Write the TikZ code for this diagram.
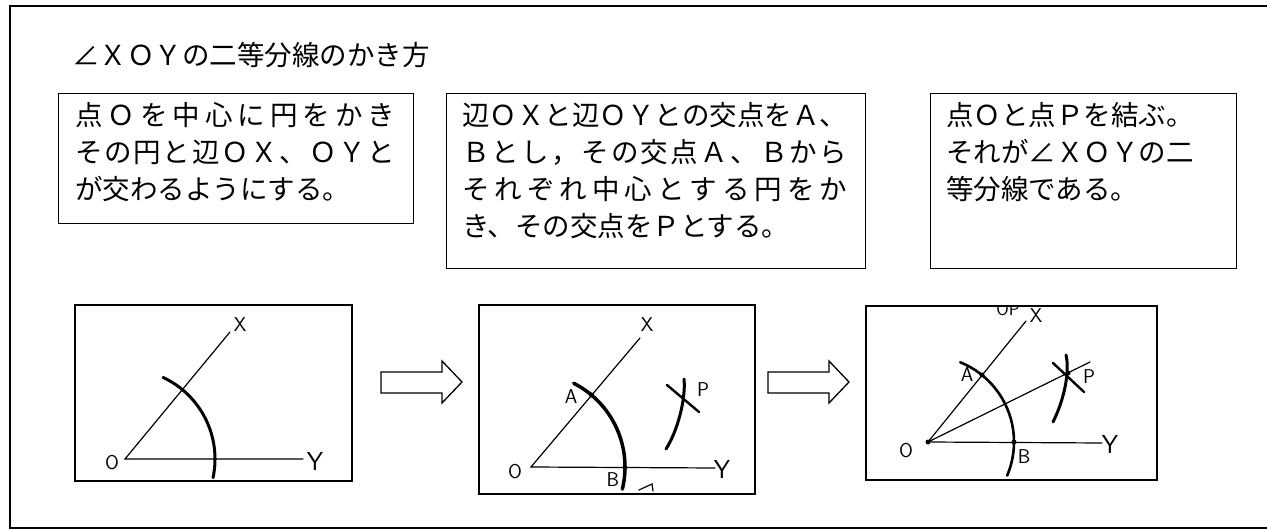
\documentclass[tikz,border=0pt]{standalone}
\usepackage{fontspec}
\newfontfamily\jpfont{Noto Sans CJK JP}
% spread one line of characters over a given width
\newcommand\spreadtext[2]{\makebox[#1][s]{\spreadchars#2\relax}}
\def\spreadchars#1{#1\futurelet\spreadnext\spreadcheck}
\def\spreadcheck{\ifx\spreadnext\relax\expandafter\spreadstop\else\hfil\expandafter\spreadchars\fi}
\def\spreadstop\relax{}
\begin{document}
\begin{tikzpicture}[x=1pt, y=-1pt,
  jp/.style={font=\jpfont\fontsize{27.5pt}{37pt}\selectfont, anchor=base west, inner sep=0pt},
  txtbox/.style={draw, line width=1.3pt, anchor=north west, inner sep=0pt},
  panel/.style={draw, line width=2pt, anchor=north west, inner sep=0pt},
  hand/.style={line width=1.2pt, line cap=round},
  bold/.style={line width=3pt, line cap=round},
  lbl/.style={font=\sffamily\fontsize{20pt}{20pt}\selectfont, inner sep=0pt},
  biglbl/.style={font=\sffamily\fontsize{26pt}{26pt}\selectfont, inner sep=0pt},
  dot/.style={circle, fill, inner sep=0pt, minimum size=5pt},
  blockarrow/.style={draw, line width=1.3pt, line join=miter}]
\useasboundingbox (0,0) rectangle (1267,529);
\draw[line width=1.8pt] (1267,6) -- (10,6) -- (10,528) -- (1267,528);
\node[jp] (title) at (72,66) {∠ＸＯＹの二等分線のかき方};
% text boxes
\node[txtbox, minimum width=355pt, minimum height=130pt] (box1) at (58,93) {};
\node[jp] (l11) at (75,125.5) {\spreadtext{320pt}{点Ｏを中心に円をかき}};
\node[jp] (l12) at (75,162.5) {\spreadtext{320pt}{その円と辺ＯＸ、ＯＹと}};
\node[jp] (l13) at (75,199.5) {が交わるようにする。};
\node[txtbox, minimum width=419pt, minimum height=175pt] (box2) at (446,93) {};
\node[jp] (l21) at (462,125.5) {\spreadtext{385pt}{辺ＯＸと辺ＯＹとの交点をＡ、}};
\node[jp] (l22) at (462,162.5) {\spreadtext{385pt}{Ｂとし，その交点Ａ、Ｂから}};
\node[jp] (l23) at (462,199.5) {\spreadtext{385pt}{それぞれ中心とする円をか}};
\node[jp] (l24) at (462,236.5) {き、その交点をＰとする。};
\node[txtbox, minimum width=306pt, minimum height=175pt] (box3) at (930,93) {};
\node[jp] (l31) at (946,125.5) {点Ｏと点Ｐを結ぶ。};
\node[jp] (l32) at (946,162.5) {それが∠ＸＯＹの二};
\node[jp] (l33) at (946,199.5) {等分線である。};
% panel 1
\node[panel, minimum width=277pt, minimum height=176pt] (pan1) at (74,304) {};
\coordinate (o1) at (125,459);
\coordinate (x1) at (230,332);
\coordinate (y1) at (303,459);
\draw[hand] (x1) -- (o1) -- (y1);
\draw[bold] (o1) ++(-65:90) arc[start angle=-65, end angle=12, radius=90];
\node[lbl] (lo1) at (112,463) {O};
\node[lbl] (lx1) at (240,325) {X};
\node[biglbl] (ly1) at (315,461) {Y};
% arrows
\draw[blockarrow] (381,372) -- (442,372) -- (442,361) -- (462,382) -- (442,403) -- (442,393) -- (381,393) -- cycle;
\draw[blockarrow] (768,372) -- (829,372) -- (829,361) -- (849,382) -- (829,403) -- (829,393) -- (768,393) -- cycle;
% panel 2
\node[panel, minimum width=276pt, minimum height=189pt] (pan2) at (478,304) {};
\coordinate (o2) at (531,467);
\coordinate (x2) at (640,338);
\coordinate (y2) at (715,468);
\draw[hand] (x2) -- (o2) -- (y2);
\draw[bold, line width=3.5pt] (o2) ++(-63:94) arc[start angle=-63, end angle=13.6, radius=94];
\node[dot] (a2) at (591.5,395) {};
\node[dot] (b2) at (625,467.5) {};
\draw[bold] (684,379) .. controls (686,400) and (677,432) .. (666,449);
\draw[bold, line width=2.4pt] (667,385) -- (699,412);
\draw[hand] (639,490) -- (652,484) -- (653,491);
\node[lbl] (lo2) at (515,472) {O};
\node[lbl] (lx2) at (647,325) {X};
\node[biglbl] (ly2) at (722,469) {Y};
\node[lbl] (la2) at (571,397) {A};
\node[lbl] (lb2) at (613,480) {B};
\node[lbl] (lp2) at (703,390) {P};
% panel 3
\node[panel, minimum width=291pt, minimum height=174pt] (pan3) at (865,305) {};
\coordinate (o3) at (928,442);
\coordinate (x3) at (1026,321);
\coordinate (y3) at (1102,443);
\coordinate (e3) at (1090,362);
\draw[hand] (x3) -- (o3) -- (y3);
\draw[hand] (o3) -- (e3);
\draw[bold, line width=2.6pt] (o3) ++(-68:86) arc[start angle=-68, end angle=23, radius=86];
\draw[bold] (1066,355) .. controls (1070,372) and (1064,400) .. (1053,422);
\draw[bold, line width=2.4pt] (1053,363) -- (1084,392);
\node[dot] (o3d) at (o3) {};
\node[dot] (a3) at (982,375) {};
\node[dot] (b3) at (1014,442) {};
\node[dot] (p3) at (1068,373) {};
\begin{scope}
\clip (866,307) rectangle (1155,478);
\node[lbl, font=\sffamily\fontsize{18pt}{18pt}\selectfont, anchor=base] (lop3) at (1008,316) {OP};
\end{scope}
\node[lbl] (lo3) at (906,451) {O};
\node[lbl] (lx3) at (1036,316) {X};
\node[biglbl] (ly3) at (1110,444) {Y};
\node[lbl] (la3) at (967,375) {A};
\node[lbl] (lb3) at (1024,457) {B};
\node[lbl] (lp3) at (1089,377) {P};
\end{tikzpicture}
\end{document}
